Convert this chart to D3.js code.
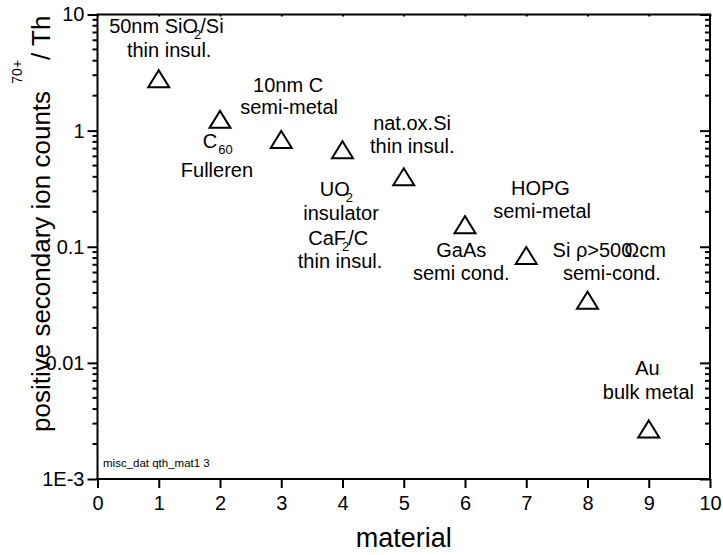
<!DOCTYPE html>
<html><head><meta charset="utf-8">
<script src="https://cdn.jsdelivr.net/npm/d3@7"></script>
<style>
html,body{margin:0;padding:0;background:#fff;}
svg{display:block;font-family:"Liberation Sans",Arial,sans-serif;}
</style></head>
<body>
<svg id="chart" width="723" height="555"></svg>
<script>
// ---- data ----
const materials = [1, 2, 3, 4, 5, 6, 7, 8, 9];
const ionCounts = [2.8, 1.25, 0.84, 0.685, 0.40, 0.155, 0.084, 0.0347, 0.0027];
const xTicks = [0, 1, 2, 3, 4, 5, 6, 7, 8, 9, 10];
const yTicks = [10, 1, 0.1, 0.01, 0.001];
const yTickLabels = ["10", "1", "0.1", "0.01", "1E-3"];
const xTitle = "material";
const yTitleMain = "positive secondary ion counts ";
const yTitleSup = "70+";
const yTitleEnd = "/ Th";
const stamp = "misc_dat qth_mat1 3";
// annotation lines: anchor in data coordinates, parts: [text, kind]
const annotations = [
  {x: 0.19, y: 6.93, parts: [["50nm SiO", "n"], ["2", "sub"], ["/Si", "back"]]},
  {x: 0.48, y: 4.31, parts: [["thin insul.", "n"]]},
  {x: 2.54, y: 2.15, parts: [["10nm C", "n"]]},
  {x: 2.33, y: 1.39, parts: [["semi-metal", "n"]]},
  {x: 1.72, y: 0.708, parts: [["C", "n"], ["60", "sub"]]},
  {x: 1.36, y: 0.399, parts: [["Fulleren", "n"]]},
  {x: 3.63, y: 0.274, parts: [["UO", "n"], ["2", "sub"]]},
  {x: 3.36, y: 0.170, parts: [["insulator", "n"]]},
  {x: 3.44, y: 0.1035, parts: [["CaF", "n"], ["2", "sub"], ["/C", "back"]]},
  {x: 3.27, y: 0.0656, parts: [["thin insul.", "n"]]},
  {x: 4.50, y: 1.01, parts: [["nat.ox.Si", "n"]]},
  {x: 4.45, y: 0.641, parts: [["thin insul.", "n"]]},
  {x: 5.53, y: 0.0817, parts: [["GaAs", "n"]]},
  {x: 5.15, y: 0.0518, parts: [["semi cond.", "n"]]},
  {x: 6.75, y: 0.279, parts: [["HOPG", "n"]]},
  {x: 6.46, y: 0.177, parts: [["semi-metal", "n"]]},
  {x: 7.43, y: 0.0817, parts: [["Si ρ>500", "n"], ["Ω", "over"], ["cm", "n"]]},
  {x: 7.60, y: 0.0518, parts: [["semi-cond.", "n"]]},
  {x: 8.78, y: 0.00787, parts: [["Au", "n"]]},
  {x: 8.25, y: 0.00489, parts: [["bulk metal", "n"]]}
];
const stampPos = {x: 0.09, y: 0.00127};

// ---- layout ----
const svg = d3.select("#chart");
const X0 = 97.5, X1 = 710, Y0 = 479, Y1 = 14.5;
const x = d3.scaleLinear().domain([0, 10]).range([X0, X1]);
const y = d3.scaleLog().domain([0.001, 10]).range([Y0, Y1]);

const minorVals = [];
for (let e = -3; e < 1; e++) for (let m = 2; m <= 9; m++) minorVals.push(m * Math.pow(10, e));

// left axis (ticks outside)
const gL = svg.append("g").attr("transform", `translate(${X0},0)`);
gL.call(d3.axisLeft(y).tickValues(yTicks).tickFormat((d, i) => yTickLabels[i]).tickSize(10).tickPadding(3));
gL.append("g").selectAll("line").data(minorVals).join("line")
  .attr("x1", -5).attr("x2", 0).attr("y1", d => y(d)).attr("y2", d => y(d));
// right axis (ticks inside)
const gR = svg.append("g").attr("transform", `translate(${X1},0)`);
gR.call(d3.axisLeft(y).tickValues(yTicks).tickFormat("").tickSize(10));
gR.append("g").selectAll("line").data(minorVals).join("line")
  .attr("x1", -5).attr("x2", 0).attr("y1", d => y(d)).attr("y2", d => y(d));
// bottom axis
const gB = svg.append("g").attr("transform", `translate(0,${Y0})`);
gB.call(d3.axisBottom(x).tickValues(xTicks).tickFormat(d3.format("d")).tickSize(9).tickPadding(8));
// top axis
const gT = svg.append("g").attr("transform", `translate(0,${Y1})`);
gT.call(d3.axisBottom(x).tickValues(xTicks).tickFormat("").tickSize(2));

[gL, gR, gB, gT].forEach(g => {
  g.selectAll(".domain").attr("stroke", "#000").attr("stroke-width", 2);
  g.selectAll("line").attr("stroke", "#000").attr("stroke-width", 2);
  g.selectAll("text").attr("fill", "#000").attr("font-size", 20)
    .attr("font-family", '"Liberation Sans",Arial,sans-serif');
});
// full frame lines
gL.select(".domain").attr("d", `M0,${Y0}V${Y1}`);
gR.select(".domain").attr("d", `M0,${Y0}V${Y1}`);
gB.select(".domain").attr("d", `M${X0 - 1},0H${X1 + 1}`);
gT.select(".domain").attr("d", `M${X0 - 1},0H${X1 + 1}`);

// data markers (open triangles)
const tri = "M0,-8.5L10.5,8.5L-10.5,8.5Z";
svg.append("g").selectAll("path").data(materials).join("path")
  .attr("d", tri)
  .attr("transform", (d, i) => `translate(${x(d)},${y(ionCounts[i])})`)
  .attr("fill", "none").attr("stroke", "#000").attr("stroke-width", 2);

// annotations
const ann = svg.append("g").attr("font-size", 20).attr("fill", "#000");
annotations.forEach(a => {
  const t = ann.append("text").attr("x", x(a.x)).attr("y", y(a.y));
  let shifted = false;
  a.parts.forEach(([s, kind]) => {
    const ts = t.append("tspan").text(s);
    if (kind === "sub") {
      ts.attr("font-size", 13).attr("dy", 6).attr("dx", s.length > 1 ? 1 : -4);
      shifted = true;
    } else if (kind === "back") {
      ts.attr("dy", shifted ? -6 : 0).attr("dx", -1);
      shifted = false;
    } else if (kind === "over") {
      ts.attr("dx", -8);
    }
  });
});

svg.append("text").attr("x", x(stampPos.x)).attr("y", y(stampPos.y))
  .attr("font-size", 11.5).attr("fill", "#000").text(stamp);

// axis titles
svg.append("text").attr("x", (X0 + X1) / 2).attr("y", 547)
  .attr("text-anchor", "middle").attr("font-size", 27).attr("fill", "#000").text(xTitle);

const yt = svg.append("text").attr("transform", "translate(50,432) rotate(-90)")
  .attr("font-size", 26).attr("fill", "#000");
yt.append("tspan").text(yTitleMain);
yt.append("tspan").attr("font-size", 14).attr("dy", -28).text(yTitleSup);
yt.append("tspan").attr("dy", 28).text(yTitleEnd);
</script>
</body></html>
